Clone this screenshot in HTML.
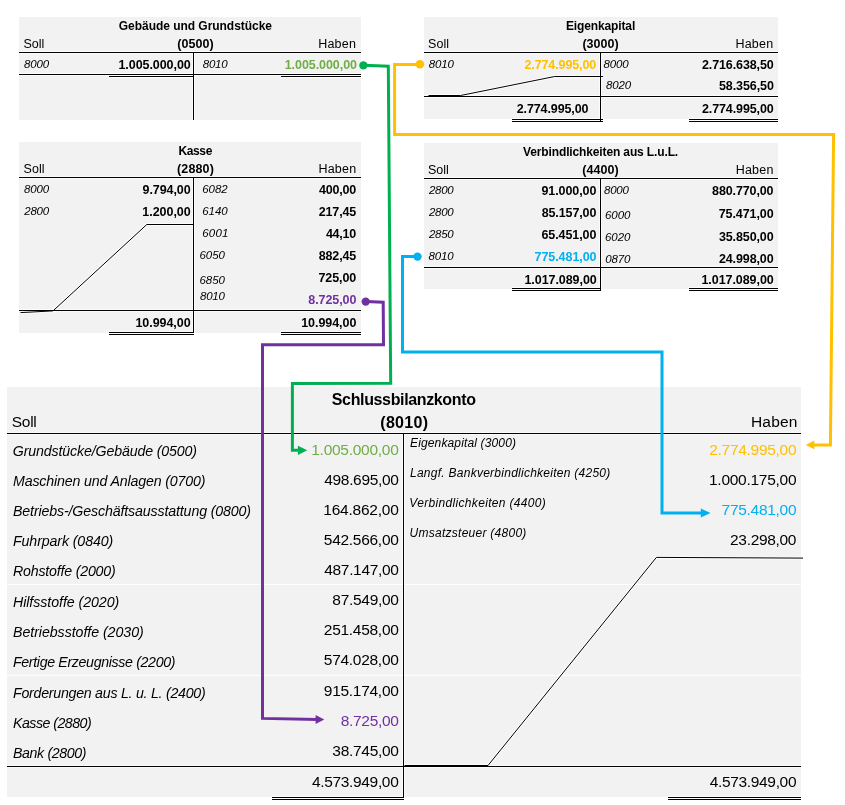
<!DOCTYPE html>
<html lang="de"><head><meta charset="utf-8"><title>Schlussbilanzkonto</title>
<style>
html,body{margin:0;padding:0;background:#fff;}
body{width:845px;height:805px;position:relative;overflow:hidden;font-family:"Liberation Sans",sans-serif;color:#000;}
.b{position:absolute;background:#f2f2f2;}
.t{position:absolute;white-space:nowrap;line-height:1;}
#tx{position:absolute;left:0;top:0;width:845px;height:805px;will-change:transform;}
.i{font-style:italic;}
.w{font-weight:bold;}
svg{position:absolute;left:0;top:0;}
</style></head><body>
<div class="b" style="left:19px;top:17px;width:342px;height:103px;"></div>
<div class="b" style="left:19px;top:142px;width:342px;height:190.5px;"></div>
<div class="b" style="left:424px;top:17px;width:354px;height:102px;"></div>
<div class="b" style="left:424px;top:143px;width:354px;height:145.5px;"></div>
<div class="b" style="left:7px;top:387.2px;width:794px;height:409.8px;"></div>
<svg width="845" height="805" viewBox="0 0 845 805">
<line x1="19" y1="52.5" x2="361" y2="52.5" stroke="#fff" stroke-opacity="0.75" stroke-width="3.0"/>
<line x1="193.5" y1="52" x2="193.5" y2="120" stroke="#fff" stroke-opacity="0.75" stroke-width="3.0"/>
<line x1="19" y1="74.5" x2="361" y2="74.5" stroke="#fff" stroke-opacity="0.75" stroke-width="3.0"/>
<line x1="109" y1="76.5" x2="194" y2="76.5" stroke="#fff" stroke-opacity="0.75" stroke-width="3.0"/>
<line x1="281" y1="76.5" x2="361" y2="76.5" stroke="#fff" stroke-opacity="0.75" stroke-width="3.0"/>
<line x1="19" y1="177.5" x2="361" y2="177.5" stroke="#fff" stroke-opacity="0.75" stroke-width="3.0"/>
<line x1="193.5" y1="177" x2="193.5" y2="333" stroke="#fff" stroke-opacity="0.75" stroke-width="3.0"/>
<line x1="19" y1="310.5" x2="361" y2="310.5" stroke="#fff" stroke-opacity="0.75" stroke-width="3.0"/>
<line x1="109" y1="332.5" x2="194" y2="332.5" stroke="#fff" stroke-opacity="0.75" stroke-width="3.0"/>
<line x1="109" y1="334.5" x2="194" y2="334.5" stroke="#fff" stroke-opacity="0.75" stroke-width="3.0"/>
<line x1="281" y1="332.5" x2="361" y2="332.5" stroke="#fff" stroke-opacity="0.75" stroke-width="3.0"/>
<line x1="281" y1="334.5" x2="361" y2="334.5" stroke="#fff" stroke-opacity="0.75" stroke-width="3.0"/>
<polyline points="193.5,224.5 146.8,224.5 53,310.9 20.5,312.6" fill="none" stroke="#fff" stroke-opacity="0.75" stroke-width="3.0"/>
<line x1="424" y1="52.5" x2="778" y2="52.5" stroke="#fff" stroke-opacity="0.75" stroke-width="3.0"/>
<line x1="600.5" y1="52" x2="600.5" y2="122" stroke="#fff" stroke-opacity="0.75" stroke-width="3.0"/>
<line x1="424" y1="96.5" x2="778" y2="96.5" stroke="#fff" stroke-opacity="0.75" stroke-width="3.0"/>
<line x1="512" y1="119.5" x2="603" y2="119.5" stroke="#fff" stroke-opacity="0.75" stroke-width="3.0"/>
<line x1="512" y1="121.5" x2="603" y2="121.5" stroke="#fff" stroke-opacity="0.75" stroke-width="3.0"/>
<line x1="689" y1="119.5" x2="778" y2="119.5" stroke="#fff" stroke-opacity="0.75" stroke-width="3.0"/>
<line x1="689" y1="121.5" x2="778" y2="121.5" stroke="#fff" stroke-opacity="0.75" stroke-width="3.0"/>
<polyline points="603,76.5 554.7,76.5 460.5,95.5 428.5,95.5" fill="none" stroke="#fff" stroke-opacity="0.75" stroke-width="3.0"/>
<line x1="424" y1="178.5" x2="778" y2="178.5" stroke="#fff" stroke-opacity="0.75" stroke-width="3.0"/>
<line x1="600.5" y1="178" x2="600.5" y2="291" stroke="#fff" stroke-opacity="0.75" stroke-width="3.0"/>
<line x1="424" y1="267.5" x2="778" y2="267.5" stroke="#fff" stroke-opacity="0.75" stroke-width="3.0"/>
<line x1="512" y1="288.5" x2="601" y2="288.5" stroke="#fff" stroke-opacity="0.75" stroke-width="3.0"/>
<line x1="512" y1="290.5" x2="601" y2="290.5" stroke="#fff" stroke-opacity="0.75" stroke-width="3.0"/>
<line x1="689" y1="288.5" x2="778" y2="288.5" stroke="#fff" stroke-opacity="0.75" stroke-width="3.0"/>
<line x1="689" y1="290.5" x2="778" y2="290.5" stroke="#fff" stroke-opacity="0.75" stroke-width="3.0"/>
<line x1="7" y1="433.5" x2="801" y2="433.5" stroke="#fff" stroke-opacity="0.75" stroke-width="3.0"/>
<line x1="403.5" y1="433" x2="403.5" y2="798" stroke="#fff" stroke-opacity="0.75" stroke-width="3.0"/>
<line x1="7" y1="766.5" x2="801" y2="766.5" stroke="#fff" stroke-opacity="0.75" stroke-width="3.0"/>
<line x1="272" y1="797.5" x2="404" y2="797.5" stroke="#fff" stroke-opacity="0.75" stroke-width="3.0"/>
<line x1="272" y1="799.5" x2="404" y2="799.5" stroke="#fff" stroke-opacity="0.75" stroke-width="3.0"/>
<line x1="668" y1="797.5" x2="801" y2="797.5" stroke="#fff" stroke-opacity="0.75" stroke-width="3.0"/>
<line x1="668" y1="799.5" x2="801" y2="799.5" stroke="#fff" stroke-opacity="0.75" stroke-width="3.0"/>
<polyline points="803,558.1 656.4,557.4 488,765.5 404.5,765.5" fill="none" stroke="#fff" stroke-opacity="0.75" stroke-width="3.0"/>
<line x1="19" y1="52.5" x2="361" y2="52.5" stroke="#000" stroke-width="1.0"/>
<line x1="193.5" y1="52" x2="193.5" y2="120" stroke="#000" stroke-width="1.0"/>
<line x1="19" y1="74.5" x2="361" y2="74.5" stroke="#000" stroke-width="1.0"/>
<line x1="109" y1="76.5" x2="194" y2="76.5" stroke="#000" stroke-width="1.0"/>
<line x1="281" y1="76.5" x2="361" y2="76.5" stroke="#000" stroke-width="1.0"/>
<line x1="19" y1="177.5" x2="361" y2="177.5" stroke="#000" stroke-width="1.0"/>
<line x1="193.5" y1="177" x2="193.5" y2="333" stroke="#000" stroke-width="1.0"/>
<line x1="19" y1="310.5" x2="361" y2="310.5" stroke="#000" stroke-width="1.0"/>
<line x1="109" y1="332.5" x2="194" y2="332.5" stroke="#000" stroke-width="1.0"/>
<line x1="109" y1="334.5" x2="194" y2="334.5" stroke="#000" stroke-width="1.0"/>
<line x1="281" y1="332.5" x2="361" y2="332.5" stroke="#000" stroke-width="1.0"/>
<line x1="281" y1="334.5" x2="361" y2="334.5" stroke="#000" stroke-width="1.0"/>
<polyline points="193.5,224.5 146.8,224.5 53,310.9 20.5,312.6" fill="none" stroke="#000" stroke-width="1.0" />
<line x1="424" y1="52.5" x2="778" y2="52.5" stroke="#000" stroke-width="1.0"/>
<line x1="600.5" y1="52" x2="600.5" y2="122" stroke="#000" stroke-width="1.0"/>
<line x1="424" y1="96.5" x2="778" y2="96.5" stroke="#000" stroke-width="1.0"/>
<line x1="512" y1="119.5" x2="603" y2="119.5" stroke="#000" stroke-width="1.0"/>
<line x1="512" y1="121.5" x2="603" y2="121.5" stroke="#000" stroke-width="1.0"/>
<line x1="689" y1="119.5" x2="778" y2="119.5" stroke="#000" stroke-width="1.0"/>
<line x1="689" y1="121.5" x2="778" y2="121.5" stroke="#000" stroke-width="1.0"/>
<polyline points="603,76.5 554.7,76.5 460.5,95.5 428.5,95.5" fill="none" stroke="#000" stroke-width="1.0" />
<line x1="424" y1="178.5" x2="778" y2="178.5" stroke="#000" stroke-width="1.0"/>
<line x1="600.5" y1="178" x2="600.5" y2="291" stroke="#000" stroke-width="1.0"/>
<line x1="424" y1="267.5" x2="778" y2="267.5" stroke="#000" stroke-width="1.0"/>
<line x1="512" y1="288.5" x2="601" y2="288.5" stroke="#000" stroke-width="1.0"/>
<line x1="512" y1="290.5" x2="601" y2="290.5" stroke="#000" stroke-width="1.0"/>
<line x1="689" y1="288.5" x2="778" y2="288.5" stroke="#000" stroke-width="1.0"/>
<line x1="689" y1="290.5" x2="778" y2="290.5" stroke="#000" stroke-width="1.0"/>
<line x1="7" y1="584.5" x2="801" y2="584.5" stroke="#fefefe" stroke-width="1.2"/>
<line x1="7" y1="675.3" x2="801" y2="675.3" stroke="#fefefe" stroke-width="1.2"/>
<line x1="7" y1="433.5" x2="801" y2="433.5" stroke="#000" stroke-width="1.0"/>
<line x1="403.5" y1="433" x2="403.5" y2="798" stroke="#000" stroke-width="1.0"/>
<line x1="7" y1="766.5" x2="801" y2="766.5" stroke="#000" stroke-width="1.0"/>
<line x1="272" y1="797.5" x2="404" y2="797.5" stroke="#000" stroke-width="1.0"/>
<line x1="272" y1="799.5" x2="404" y2="799.5" stroke="#000" stroke-width="1.0"/>
<line x1="668" y1="797.5" x2="801" y2="797.5" stroke="#000" stroke-width="1.0"/>
<line x1="668" y1="799.5" x2="801" y2="799.5" stroke="#000" stroke-width="1.0"/>
<polyline points="803,558.1 656.4,557.4 488,765.5 404.5,765.5" fill="none" stroke="#000" stroke-width="1.0" />
<circle cx="363.4" cy="65.4" r="4.2" fill="#00b050"/>
<polyline points="363.4,65.2 388.3,66.3 390.7,383.3 292.4,383.4 292.4,450.3 300,450.3" fill="none" stroke="#00b050" stroke-width="3.0" />
<polygon points="307.2,450.3 297.9,445.7 297.9,454.90000000000003" fill="#00b050"/>
<circle cx="419.9" cy="64.3" r="4.3" fill="#ffc000"/>
<polyline points="419.9,64.5 394.6,64.5 394.6,134.5 833.6,134.5 830.4,444.9 812,444.9" fill="none" stroke="#ffc000" stroke-width="3.0" />
<polygon points="805.7,444.9 814.3000000000001,440.59999999999997 814.3000000000001,449.2" fill="#ffc000"/>
<circle cx="365.7" cy="301.6" r="4.2" fill="#7030a0"/>
<polyline points="365.7,301.4 383.2,302.2 383.5,344.7 262.5,344.7 262.5,718.4 318,719.5" fill="none" stroke="#7030a0" stroke-width="3.0" />
<polygon points="324.3,719.5 315.6,715.1 315.6,723.9" fill="#7030a0"/>
<circle cx="417.5" cy="256.6" r="4.2" fill="#00b0f0"/>
<polyline points="417.5,256.6 402.5,256.6 402.5,352 662,352 662,513 703,513" fill="none" stroke="#00b0f0" stroke-width="3.0" />
<polygon points="710.5,513 700.8,508.4 700.8,517.6" fill="#00b0f0"/>
</svg>
<div id="tx">
<div class="t w" style="left:118.75px;top:19.50px;font-size:12px;letter-spacing:-0.034px;">Gebäude und Grundstücke</div>
<div class="t" style="left:23.50px;top:37.75px;font-size:12.5px;">Soll</div>
<div class="t w" style="left:177.20px;top:37.75px;font-size:12.5px;letter-spacing:0.070px;">(0500)</div>
<div class="t" style="left:318.25px;top:37.75px;font-size:12.5px;letter-spacing:0.188px;">Haben</div>
<div class="t i" style="left:24.00px;top:59.35px;font-size:11.5px;letter-spacing:-0.150px;">8000</div>
<div class="t w" style="left:118.44px;top:59.05px;font-size:12.5px;letter-spacing:-0.062px;">1.005.000,00</div>
<div class="t i" style="left:202.75px;top:59.35px;font-size:11.5px;letter-spacing:-0.234px;">8010</div>
<div class="t w" style="left:284.69px;top:59.05px;font-size:12.5px;color:#70ad47;letter-spacing:-0.062px;">1.005.000,00</div>
<div class="t w" style="left:178.55px;top:145.00px;font-size:12px;letter-spacing:-0.399px;">Kasse</div>
<div class="t" style="left:23.50px;top:162.75px;font-size:12.5px;letter-spacing:0.083px;">Soll</div>
<div class="t w" style="left:177.05px;top:162.75px;font-size:12.5px;letter-spacing:0.130px;">(2880)</div>
<div class="t" style="left:318.50px;top:162.75px;font-size:12.5px;letter-spacing:0.188px;">Haben</div>
<div class="t i" style="left:24.00px;top:183.85px;font-size:11.5px;letter-spacing:-0.150px;">8000</div>
<div class="t w" style="left:142.61px;top:184.25px;font-size:12.5px;letter-spacing:-0.087px;">9.794,00</div>
<div class="t i" style="left:24.25px;top:205.85px;font-size:11.5px;letter-spacing:-0.234px;">2800</div>
<div class="t w" style="left:142.36px;top:206.25px;font-size:12.5px;letter-spacing:-0.052px;">1.200,00</div>
<div class="t i" style="left:202.25px;top:183.85px;font-size:11.5px;letter-spacing:-0.068px;">6082</div>
<div class="t w" style="left:318.98px;top:184.25px;font-size:12.5px;letter-spacing:-0.196px;">400,00</div>
<div class="t i" style="left:202.25px;top:205.85px;font-size:11.5px;letter-spacing:-0.068px;">6140</div>
<div class="t w" style="left:318.73px;top:206.25px;font-size:12.5px;letter-spacing:-0.146px;">217,45</div>
<div class="t i" style="left:202.25px;top:227.85px;font-size:11.5px;letter-spacing:0.182px;">6001</div>
<div class="t w" style="left:325.88px;top:228.25px;font-size:12.5px;letter-spacing:-0.220px;">44,10</div>
<div class="t i" style="left:199.50px;top:250.15px;font-size:11.5px;letter-spacing:-0.067px;">6050</div>
<div class="t w" style="left:318.73px;top:250.25px;font-size:12.5px;letter-spacing:-0.146px;">882,45</div>
<div class="t i" style="left:199.50px;top:274.65px;font-size:11.5px;letter-spacing:-0.067px;">6850</div>
<div class="t w" style="left:318.48px;top:272.35px;font-size:12.5px;letter-spacing:-0.096px;">725,00</div>
<div class="t i" style="left:200.00px;top:290.85px;font-size:11.5px;letter-spacing:-0.233px;">8010</div>
<div class="t w" style="left:308.36px;top:294.25px;font-size:12.5px;color:#7030a0;letter-spacing:-0.087px;">8.725,00</div>
<div class="t w" style="left:135.46px;top:317.45px;font-size:12.5px;letter-spacing:-0.058px;">10.994,00</div>
<div class="t w" style="left:301.21px;top:317.45px;font-size:12.5px;letter-spacing:-0.058px;">10.994,00</div>
<div class="t w" style="left:565.95px;top:19.50px;font-size:12px;letter-spacing:-0.127px;">Eigenkapital</div>
<div class="t" style="left:428.00px;top:37.75px;font-size:12.5px;letter-spacing:0.083px;">Soll</div>
<div class="t w" style="left:582.45px;top:37.75px;font-size:12.5px;letter-spacing:0.020px;">(3000)</div>
<div class="t" style="left:735.50px;top:37.75px;font-size:12.5px;letter-spacing:0.188px;">Haben</div>
<div class="t i" style="left:428.75px;top:59.35px;font-size:11.5px;letter-spacing:-0.150px;">8010</div>
<div class="t w" style="left:524.44px;top:59.05px;font-size:12.5px;color:#ffc000;letter-spacing:-0.108px;">2.774.995,00</div>
<div class="t i" style="left:603.50px;top:59.35px;font-size:11.5px;letter-spacing:-0.150px;">8000</div>
<div class="t w" style="left:701.94px;top:59.25px;font-size:12.5px;letter-spacing:-0.108px;">2.716.638,50</div>
<div class="t i" style="left:606.00px;top:80.35px;font-size:11.5px;letter-spacing:-0.150px;">8020</div>
<div class="t w" style="left:718.96px;top:80.25px;font-size:12.5px;letter-spacing:-0.090px;">58.356,50</div>
<div class="t w" style="left:516.69px;top:103.15px;font-size:12.5px;letter-spacing:-0.108px;">2.774.995,00</div>
<div class="t w" style="left:701.94px;top:103.25px;font-size:12.5px;letter-spacing:-0.108px;">2.774.995,00</div>
<div class="t w" style="left:523.05px;top:146.00px;font-size:12px;letter-spacing:-0.133px;">Verbindlichkeiten aus L.u.L.</div>
<div class="t" style="left:428.00px;top:163.75px;font-size:12.5px;">Soll</div>
<div class="t w" style="left:582.30px;top:163.75px;font-size:12.5px;letter-spacing:0.030px;">(4400)</div>
<div class="t" style="left:735.75px;top:163.75px;font-size:12.5px;letter-spacing:0.188px;">Haben</div>
<div class="t i" style="left:429.00px;top:185.05px;font-size:11.5px;letter-spacing:-0.316px;">2800</div>
<div class="t w" style="left:541.46px;top:185.45px;font-size:12.5px;letter-spacing:-0.090px;">91.000,00</div>
<div class="t i" style="left:429.00px;top:206.85px;font-size:11.5px;letter-spacing:-0.316px;">2800</div>
<div class="t w" style="left:541.71px;top:207.25px;font-size:12.5px;letter-spacing:-0.121px;">85.157,00</div>
<div class="t i" style="left:429.00px;top:228.85px;font-size:11.5px;letter-spacing:-0.316px;">2850</div>
<div class="t w" style="left:541.46px;top:229.25px;font-size:12.5px;letter-spacing:-0.090px;">65.451,00</div>
<div class="t i" style="left:428.50px;top:251.15px;font-size:11.5px;letter-spacing:-0.150px;">8010</div>
<div class="t w" style="left:534.56px;top:250.85px;font-size:12.5px;color:#00b0f0;letter-spacing:-0.063px;">775.481,00</div>
<div class="t i" style="left:604.00px;top:185.25px;font-size:11.5px;letter-spacing:-0.233px;">8000</div>
<div class="t w" style="left:712.06px;top:185.15px;font-size:12.5px;letter-spacing:-0.119px;">880.770,00</div>
<div class="t i" style="left:605.00px;top:210.45px;font-size:11.5px;letter-spacing:-0.067px;">6000</div>
<div class="t w" style="left:718.71px;top:207.95px;font-size:12.5px;letter-spacing:-0.090px;">75.471,00</div>
<div class="t i" style="left:605.00px;top:231.85px;font-size:11.5px;letter-spacing:-0.067px;">6020</div>
<div class="t w" style="left:718.96px;top:231.25px;font-size:12.5px;letter-spacing:-0.121px;">35.850,00</div>
<div class="t i" style="left:605.25px;top:253.85px;font-size:11.5px;letter-spacing:-0.151px;">0870</div>
<div class="t w" style="left:718.96px;top:252.65px;font-size:12.5px;letter-spacing:-0.121px;">24.998,00</div>
<div class="t w" style="left:524.44px;top:274.45px;font-size:12.5px;letter-spacing:-0.062px;">1.017.089,00</div>
<div class="t w" style="left:701.44px;top:273.95px;font-size:12.5px;letter-spacing:-0.062px;">1.017.089,00</div>
<div class="t w" style="left:331.80px;top:392.30px;font-size:16px;letter-spacing:-0.359px;">Schlussbilanzkonto</div>
<div class="t" style="left:11.75px;top:413.75px;font-size:15.5px;letter-spacing:-0.266px;">Soll</div>
<div class="t w" style="left:380.25px;top:414.50px;font-size:16px;letter-spacing:0.300px;">(8010)</div>
<div class="t" style="left:750.90px;top:413.75px;font-size:15.5px;letter-spacing:0.212px;">Haben</div>
<div class="t i" style="left:12.75px;top:444.00px;font-size:14.2px;letter-spacing:-0.136px;">Grundstücke/Gebäude (0500)</div>
<div class="t" style="left:311.25px;top:441.75px;font-size:15.5px;color:#70ad47;letter-spacing:-0.273px;">1.005.000,00</div>
<div class="t i" style="left:13.00px;top:474.00px;font-size:14.2px;letter-spacing:-0.154px;">Maschinen und Anlagen (0700)</div>
<div class="t" style="left:324.30px;top:471.75px;font-size:15.5px;letter-spacing:-0.338px;">498.695,00</div>
<div class="t i" style="left:13.00px;top:504.00px;font-size:14.2px;letter-spacing:-0.135px;">Betriebs-/Geschäftsausstattung (0800)</div>
<div class="t" style="left:323.30px;top:501.75px;font-size:15.5px;letter-spacing:-0.227px;">164.862,00</div>
<div class="t i" style="left:13.00px;top:534.00px;font-size:14.2px;letter-spacing:-0.107px;">Fuhrpark (0840)</div>
<div class="t" style="left:323.80px;top:531.75px;font-size:15.5px;letter-spacing:-0.282px;">542.566,00</div>
<div class="t i" style="left:13.00px;top:564.00px;font-size:14.2px;letter-spacing:-0.200px;">Rohstoffe (2000)</div>
<div class="t" style="left:324.30px;top:561.75px;font-size:15.5px;letter-spacing:-0.338px;">487.147,00</div>
<div class="t i" style="left:13.00px;top:594.50px;font-size:14.2px;letter-spacing:-0.059px;">Hilfsstoffe (2020)</div>
<div class="t" style="left:332.30px;top:592.25px;font-size:15.5px;letter-spacing:-0.288px;">87.549,00</div>
<div class="t i" style="left:13.00px;top:624.50px;font-size:14.2px;letter-spacing:-0.050px;">Betriebsstoffe (2030)</div>
<div class="t" style="left:323.80px;top:622.25px;font-size:15.5px;letter-spacing:-0.282px;">251.458,00</div>
<div class="t i" style="left:13.00px;top:654.50px;font-size:14.2px;letter-spacing:-0.346px;">Fertige Erzeugnisse (2200)</div>
<div class="t" style="left:323.80px;top:652.25px;font-size:15.5px;letter-spacing:-0.282px;">574.028,00</div>
<div class="t i" style="left:13.00px;top:685.50px;font-size:14.2px;letter-spacing:-0.255px;">Forderungen aus L. u. L. (2400)</div>
<div class="t" style="left:323.80px;top:682.75px;font-size:15.5px;letter-spacing:-0.282px;">915.174,00</div>
<div class="t i" style="left:13.00px;top:716.10px;font-size:14.2px;letter-spacing:-0.523px;">Kasse (2880)</div>
<div class="t" style="left:340.80px;top:712.75px;font-size:15.5px;color:#7030a0;letter-spacing:-0.329px;">8.725,00</div>
<div class="t i" style="left:13.00px;top:746.10px;font-size:14.2px;letter-spacing:-0.375px;">Bank (2800)</div>
<div class="t" style="left:332.30px;top:742.75px;font-size:15.5px;letter-spacing:-0.288px;">38.745,00</div>
<div class="t" style="left:312.00px;top:773.75px;font-size:15.5px;letter-spacing:-0.341px;">4.573.949,00</div>
<div class="t" style="left:709.75px;top:773.75px;font-size:15.5px;letter-spacing:-0.341px;">4.573.949,00</div>
<div class="t i" style="left:410.00px;top:436.70px;font-size:12px;letter-spacing:0.143px;">Eigenkapital (3000)</div>
<div class="t" style="left:709.25px;top:441.75px;font-size:15.5px;color:#ffc000;letter-spacing:-0.295px;">2.774.995,00</div>
<div class="t i" style="left:410.00px;top:466.70px;font-size:12px;letter-spacing:0.259px;">Langf. Bankverbindlichkeiten (4250)</div>
<div class="t" style="left:709.00px;top:471.75px;font-size:15.5px;letter-spacing:-0.272px;">1.000.175,00</div>
<div class="t i" style="left:409.25px;top:496.70px;font-size:12px;letter-spacing:0.332px;">Verbindlichkeiten (4400)</div>
<div class="t" style="left:721.55px;top:501.75px;font-size:15.5px;color:#00b0f0;letter-spacing:-0.283px;">775.481,00</div>
<div class="t i" style="left:409.50px;top:526.70px;font-size:12px;letter-spacing:0.268px;">Umsatzsteuer (4800)</div>
<div class="t" style="left:730.05px;top:531.75px;font-size:15.5px;letter-spacing:-0.319px;">23.298,00</div>
</div>
</body></html>
